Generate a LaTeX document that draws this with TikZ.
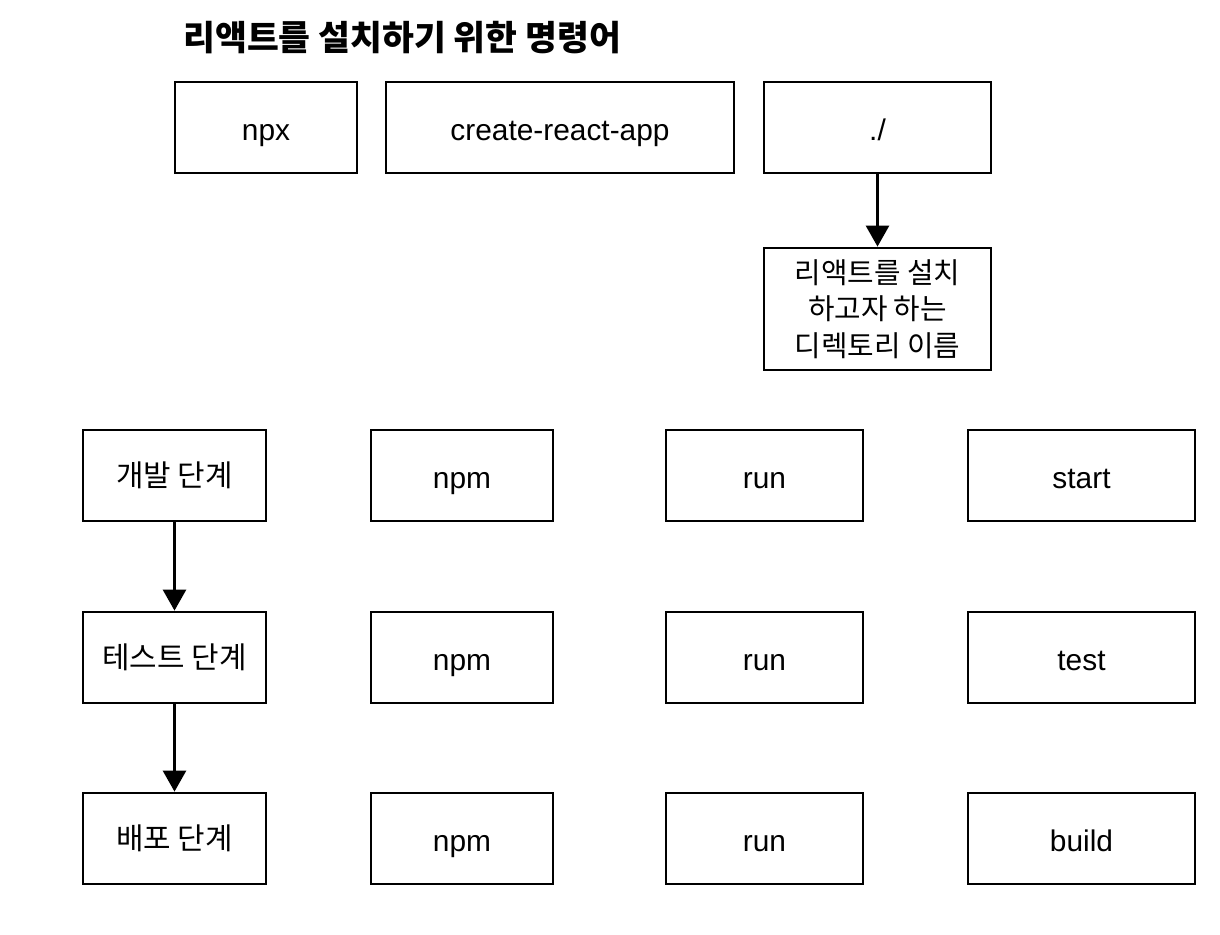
\documentclass[tikz,border=0pt]{standalone}
\usepackage{fontspec}
\setmainfont{Liberation Sans}
\newfontfamily\kr{Noto Sans CJK KR}
\usetikzlibrary{arrows.meta}
\tikzset{
  cmdbox/.style 2 args={draw, line width=1.6pt, inner sep=0pt,
    minimum width=#1*0.02cm, minimum height=#2*0.02cm,
    text height=18.7pt, text depth=4.3pt,
    font=\fontsize{17}{20}\selectfont},
  krbox/.style 2 args={draw, line width=1.6pt, inner sep=0pt,
    minimum width=#1*0.02cm, minimum height=#2*0.02cm, align=center,
    font=\kr\fontsize{17}{20.7}\selectfont},
  flow/.style={line width=1.6pt, -{Triangle[length=0.42cm,width=0.46cm]}}
}
\begin{document}
\begin{tikzpicture}[x=0.02cm,y=-0.02cm]
    % constants
    \def\rowA{475.5}
    \def\rowB{657.5}
    \def\rowC{838.5}
    \def\boxH{91}
    \useasboundingbox (0,0) rectangle (1220,934);
    % title
    \node [anchor=west, inner sep=0pt, font=\kr\bfseries\fontsize{19.7}{24}\selectfont] (title) at (183,38) {리액트를 설치하기 위한 명령어};
    % install command
    \node [cmdbox={182}{\boxH}] (npx) at (266,127.5) {npx};
    \node [cmdbox={348}{\boxH}] (cra) at (560,127.5) {create-react-app};
    \node [cmdbox={227}{\boxH}] (dir) at (877.5,127.5) {./};
    \node [krbox={227}{122}, font=\kr\fontsize{16.4}{20.7}\selectfont] (dirname) at (877.5,309) {리액트를 설치\\하고자 하는\\디렉토리 이름};
    % stage labels
    \node [krbox={183}{\boxH}] (dev) at (174.5,\rowA) {개발 단계};
    \node [krbox={183}{\boxH}] (test) at (174.5,\rowB) {테스트 단계};
    \node [krbox={183}{\boxH}] (deploy) at (174.5,\rowC) {배포 단계};
    % npm commands
    \node [cmdbox={182}{\boxH}] (npmA) at (462,\rowA) {npm};
    \node [cmdbox={197}{\boxH}] (runA) at (764.5,\rowA) {run};
    \node [cmdbox={227}{\boxH}] (start) at (1081.5,\rowA) {start};
    \node [cmdbox={182}{\boxH}] (npmB) at (462,\rowB) {npm};
    \node [cmdbox={197}{\boxH}] (runB) at (764.5,\rowB) {run};
    \node [cmdbox={227}{\boxH}] (testcmd) at (1081.5,\rowB) {test};
    \node [cmdbox={182}{\boxH}] (npmC) at (462,\rowC) {npm};
    \node [cmdbox={197}{\boxH}] (runC) at (764.5,\rowC) {run};
    \node [cmdbox={227}{\boxH}] (build) at (1081.5,\rowC) {build};
    % arrows
    \draw [flow] (dir) -- (dirname);
    \draw [flow] (dev) -- (test);
    \draw [flow] (test) -- (deploy);
\end{tikzpicture}
\end{document}
